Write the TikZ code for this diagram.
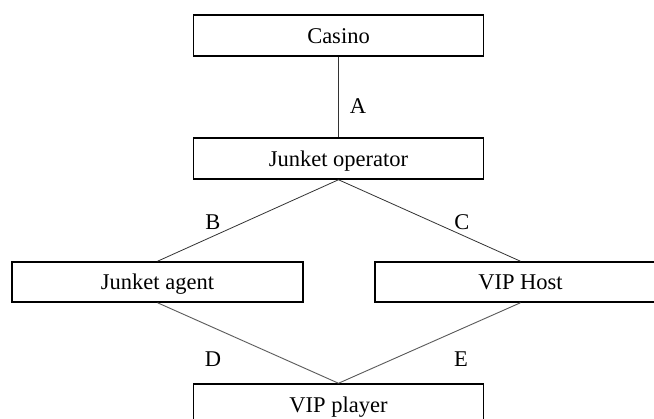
\documentclass[tikz,border=0pt]{standalone}
\usepackage{fontspec}
\setmainfont{Liberation Serif}
\begin{document}
\begin{tikzpicture}[x=1pt,y=-1pt,
  box/.style={draw=black,line width=1.5pt,rectangle,inner sep=0pt,minimum width=290pt,minimum height=41pt,text height=16pt,text depth=0pt,font=\fontsize{22.5}{27}\selectfont},
  lbl/.style={inner sep=0pt,font=\fontsize{22.5}{27}\selectfont},
  conn/.style={draw=black!80,line width=0.8pt},
  connb/.style={draw=black!65,line width=0.9pt}]
\useasboundingbox (0,0) rectangle (654,419);
\clip (0,0) rectangle (654,419);
\fill[white] (0,0) rectangle (654,419);
\node[box] (casino) at (338.5,35.5) {Casino};
\node[box] (op) at (338.5,158.5) {Junket operator};
\node[box,minimum width=291pt,minimum height=40pt] (agent) at (157.5,282) {Junket agent};
\node[box,minimum width=291pt,minimum height=40pt] (host) at (520.5,282) {VIP Host};
\node[box] (player) at (338.5,404.5) {VIP player};
\draw[conn] (casino.south) -- (op.north);
\draw[conn] (op.south) -- (agent.north);
\draw[conn] (op.south) -- (host.north);
\draw[connb] (agent.south) -- (player.north);
\draw[connb] (host.south) -- (player.north);
\node[lbl] (la) at (358,106) {A};
\node[lbl] (lb) at (213,222) {B};
\node[lbl] (lc) at (462,222) {C};
\node[lbl] (ld) at (213,359) {D};
\node[lbl] (le) at (461,359) {E};
\end{tikzpicture}
\end{document}
